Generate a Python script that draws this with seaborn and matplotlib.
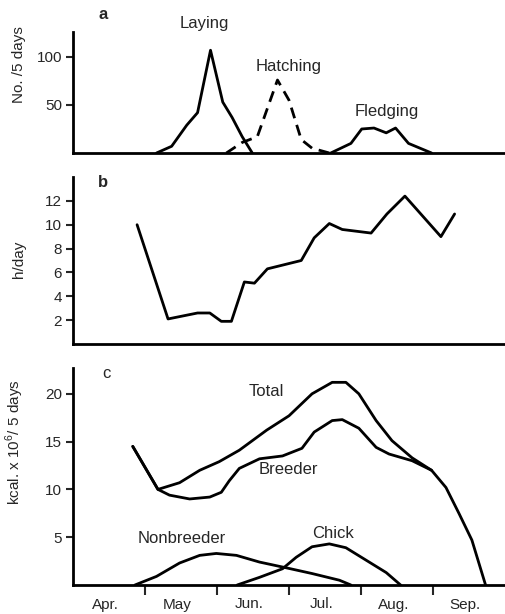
import numpy as np
import pandas as pd
import matplotlib
matplotlib.use("Agg")
import matplotlib.pyplot as plt
import seaborn as sns

# x positions in months since Apr 1 (0=Apr 1, 1=May 1, ...)
laying_x = [1.16, 1.37, 1.58, 1.73, 1.91, 2.08, 2.21, 2.35, 2.49]
laying_y = [0, 7, 29, 42, 107, 53, 37, 17, 0]
hatch_x = [2.13, 2.35, 2.56, 2.84, 3.00, 3.17, 3.32, 3.56]
hatch_y = [0, 11, 17, 76, 55, 14, 5, 0]
fledge_x = [3.58, 3.86, 4.01, 4.18, 4.35, 4.48, 4.66, 4.98]
fledge_y = [0, 10, 25, 26, 21, 26, 10, 0]

hours_x = [0.89, 1.32, 1.73, 1.90, 2.06, 2.20, 2.38, 2.52, 2.70, 3.17, 3.35, 3.56,
           3.74, 4.14, 4.36, 4.61, 5.11, 5.30]
hours_y = [10.0, 2.1, 2.6, 2.6, 1.9, 1.9, 5.2, 5.1, 6.3, 7.0, 8.9, 10.1,
           9.6, 9.3, 10.9, 12.4, 9.0, 10.9]

total_x = [0.83, 1.18, 1.48, 1.76, 2.03, 2.31, 2.69, 3.00, 3.32, 3.60, 3.79, 3.97,
           4.21, 4.43, 4.71, 4.98, 5.18, 5.36, 5.54, 5.73]
total_y = [14.5, 10.0, 10.7, 12.0, 12.9, 14.1, 16.2, 17.7, 20.0, 21.2, 21.2, 20.0,
           17.2, 15.1, 13.3, 12.0, 10.2, 7.5, 4.7, 0.0]
breeder_x = [0.83, 1.18, 1.34, 1.62, 1.90, 2.06, 2.17, 2.31, 2.59, 2.91, 3.18, 3.35,
             3.60, 3.74, 3.97, 4.21, 4.39, 4.71, 4.98]
breeder_y = [14.5, 10.0, 9.4, 9.0, 9.2, 9.7, 10.9, 12.2, 13.2, 13.5, 14.3, 16.0,
             17.2, 17.3, 16.4, 14.4, 13.7, 13.0, 12.0]
nonbr_x = [0.86, 1.16, 1.48, 1.76, 1.99, 2.27, 2.59, 2.96, 3.32, 3.70, 3.86]
nonbr_y = [0, 0.9, 2.3, 3.1, 3.3, 3.1, 2.4, 1.8, 1.2, 0.5, 0]
chick_x = [2.28, 2.59, 2.91, 3.10, 3.32, 3.56, 3.79, 4.07, 4.35, 4.55]
chick_y = [0, 0.8, 1.7, 2.9, 4.0, 4.3, 3.9, 2.6, 1.3, 0]

months = ["Apr.", "May", "Jun.", "Jul.", "Aug.", "Sep."]

sns.set_theme(style="ticks")
plt.rcParams['font.family'] = ['Liberation Sans', 'DejaVu Sans']
plt.rcParams['axes.linewidth'] = 2.0
plt.rcParams['mathtext.fontset'] = 'custom'
plt.rcParams['mathtext.rm'] = 'Liberation Sans'

W, H = 505, 614
fig = plt.figure(figsize=(W / 100, H / 100), dpi=100)

def ax_at(top_px, bottom_px):
    left = 73 / W
    width = 432 / W
    return fig.add_axes([left, 1 - bottom_px / H, width, (bottom_px - top_px) / H])

ax_a = ax_at(32, 153)
ax_b = ax_at(177, 344)
ax_c = ax_at(368, 585)

lw = 2.0
kw = dict(color="black", linewidth=lw, sort=False, estimator=None)

sns.lineplot(x=laying_x, y=laying_y, ax=ax_a, **kw)
sns.lineplot(x=hatch_x, y=hatch_y, ax=ax_a, linestyle=(0, (4, 2.5)), **kw)
sns.lineplot(x=fledge_x, y=fledge_y, ax=ax_a, **kw)

sns.lineplot(x=hours_x, y=hours_y, ax=ax_b, **kw)

sns.lineplot(x=total_x, y=total_y, ax=ax_c, **kw)
sns.lineplot(x=breeder_x, y=breeder_y, ax=ax_c, **kw)
sns.lineplot(x=nonbr_x, y=nonbr_y, ax=ax_c, **kw)
sns.lineplot(x=chick_x, y=chick_y, ax=ax_c, **kw)

fs = 11
afs = 12
for ax in (ax_a, ax_b, ax_c):
    ax.set_xlim(0, 6)
    sns.despine(ax=ax)
    ax.tick_params(axis="y", direction="out", length=5, width=1.5, labelsize=fs, pad=3)
    ax.spines['left'].set_color('black')
    ax.spines['bottom'].set_color('black')

ax_a.set_ylim(0, 126)
ax_a.set_yticks([50, 100])
ax_a.set_xticks([])
ax_b.set_ylim(0, 14)
ax_b.set_yticks([2, 4, 6, 8, 10, 12])
ax_b.set_xticks([])
ax_c.set_ylim(0, 22.7)
ax_c.set_yticks([5, 10, 15, 20])
ax_c.set_xticks([1, 2, 3, 4, 5])
ax_c.set_xticklabels([])
ax_c.tick_params(axis="x", which="major", direction="out", length=7, width=1.5)
ax_c.set_xticks([m + 0.45 for m in range(6)], minor=True)
ax_c.set_xticklabels(months, minor=True)
ax_c.tick_params(axis="x", which="minor", length=0, labelsize=fs, pad=9)

ax_a.set_ylabel("No. /5 days", fontsize=fs)
ax_a.yaxis.set_label_coords(-0.108, 0.73)
ax_b.set_ylabel("h/day", fontsize=fs)
ax_b.yaxis.set_label_coords(-0.108, 0.51)
ax_c.set_ylabel("kcal. x 10$^6$/ 5 days", fontsize=fs)
ax_c.yaxis.set_label_coords(-0.108, 0.66)

tk = dict(ha="center", va="center", fontsize=afs, clip_on=False)
ax_a.text(0.42, 144, "a", fontweight="bold", **tk)
ax_a.text(1.82, 135, "Laying", **tk)
ax_a.text(3.0, 90, "Hatching", **tk)
ax_a.text(4.36, 43, "Fledging", **tk)
ax_b.text(0.42, 13.5, "b", fontweight="bold", **tk)
ax_c.text(0.46, 22.1, "c", **tk)
ax_c.text(2.69, 20.2, "Total", **tk)
ax_c.text(2.99, 12.1, "Breeder", **tk)
ax_c.text(1.51, 4.9, "Nonbreeder", **tk)
ax_c.text(3.61, 5.4, "Chick", **tk)

fig.savefig("out.png", dpi=100, facecolor="white")
